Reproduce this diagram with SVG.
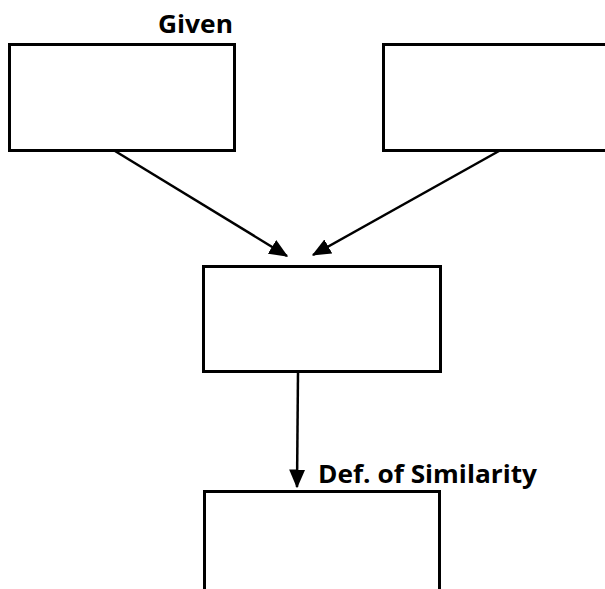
<svg xmlns="http://www.w3.org/2000/svg" width="605" height="589" viewBox="0 0 605 589">
  <style>
    .box { fill: #fff; stroke: #000; stroke-width: 3; }
    .conn { stroke: #000; stroke-width: 2.5; fill: none; marker-end: url(#ah); }
    .lbl { font-family: "Open Sans", "Liberation Sans", sans-serif; font-weight: bold; font-size: 25px; fill: #000; }
  </style>
  <defs>
    <marker id="ah" markerWidth="7.5" markerHeight="6.4" refX="7" refY="3.2" orient="auto" markerUnits="strokeWidth">
      <path d="M0,0 L7.5,3.2 L0,6.4 Z" fill="#000"/>
    </marker>
  </defs>
  <rect width="605" height="589" fill="#fff"/>
  <g id="connectors">
    <line class="conn" x1="115" y1="151" x2="287" y2="256"/>
    <line class="conn" x1="499" y1="151" x2="313" y2="255"/>
    <line class="conn" x1="298" y1="372" x2="297" y2="487"/>
  </g>
  <g id="given">
    <rect class="box" x="9.5" y="44.5" width="225" height="106"/>
    <text class="lbl" x="158" y="33" textLength="75" lengthAdjust="spacingAndGlyphs">Given</text>
  </g>
  <g id="given2">
    <rect class="box" x="383.5" y="44.5" width="240" height="106"/>
  </g>
  <g id="middle">
    <rect class="box" x="203.5" y="266.5" width="237" height="105"/>
  </g>
  <g id="bottom">
    <rect class="box" x="204.5" y="491.5" width="235" height="110"/>
    <text class="lbl" x="318" y="483" textLength="219" lengthAdjust="spacingAndGlyphs">Def. of Similarity</text>
  </g>
</svg>
